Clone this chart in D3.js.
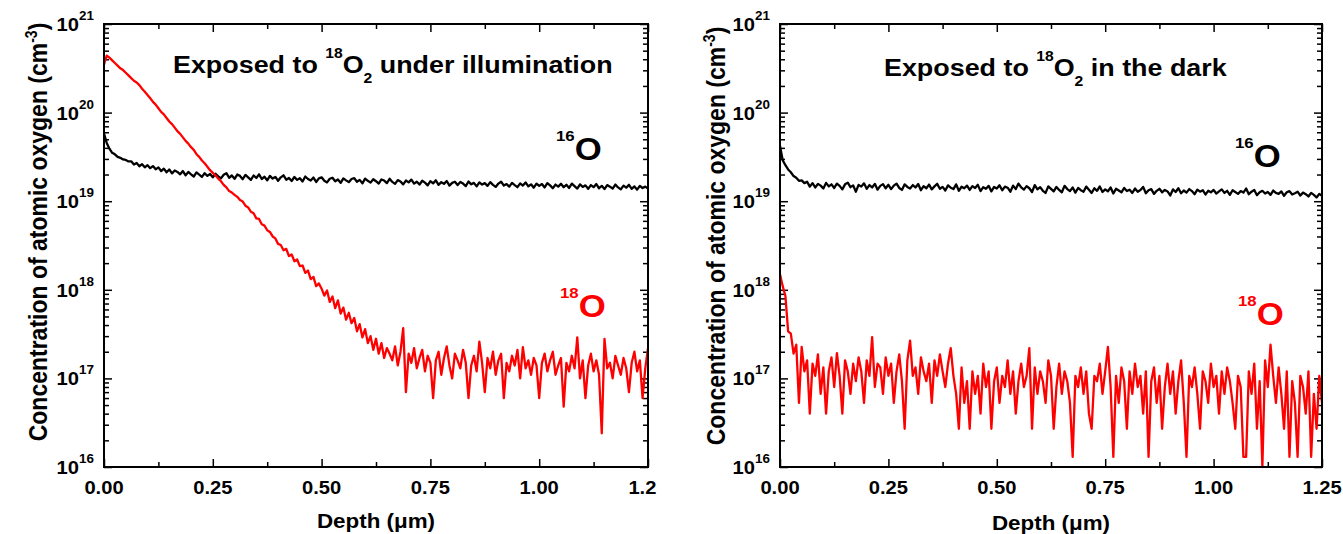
<!DOCTYPE html>
<html>
<head>
<meta charset="utf-8">
<script src="https://cdn.jsdelivr.net/npm/d3@7"></script>
<style>
  body { margin: 0; background: #fff; }
  text { font-family: "Liberation Sans", Arial, sans-serif; font-weight: bold; }
</style>
</head>
<body>
<svg id="chart" width="1343" height="534"></svg>
<script>
// SIMS depth profiles, one point every STEP micrometres, values in units of 1e17 cm^-3
const STEP = 0.00625;
const UNIT = 1e17;

const xMajor = [0, 0.25, 0.5, 0.75, 1.0, 1.25];
const xMinor = [0.125, 0.375, 0.625, 0.875, 1.125];
const xTickLabels = ["0.00", "0.25", "0.50", "0.75", "1.00", "1.25"];
const decades = [16, 17, 18, 19, 20, 21];

// exposed under illumination
const lightO16 = [
  580, 455, 392, 352, 338, 316, 309, 296, 292, 281,
  282, 259, 270, 248, 262, 241, 255, 236, 249, 229,
  241, 219, 233, 212, 228, 206, 222, 214, 201, 219,
  196, 214, 201, 190, 211, 199, 188, 207, 193, 203,
  186, 204, 191, 181, 199, 207, 184, 195, 179, 200,
  193, 177, 198, 186, 174, 195, 183, 201, 178, 189,
  172, 193, 180, 188, 170, 186, 196, 175, 183, 169,
  188, 174, 182, 167, 190, 178, 171, 185, 165, 181,
  186, 170, 163, 179, 184, 168, 176, 161, 181, 172,
  164, 178, 182, 166, 174, 159, 180, 170, 162, 177,
  168, 158, 176, 171, 160, 179, 165, 157, 173, 167,
  155, 171, 163, 175, 158, 166, 154, 170, 162, 151,
  168, 159, 172, 153, 164, 157, 169, 150, 161, 166,
  152, 165, 158, 148, 167, 155, 161, 147, 163, 154,
  160, 149, 164, 153, 145, 158, 166, 150, 156, 146,
  161, 152, 144, 159, 150, 163, 147, 155, 142, 158,
  149, 156, 143, 160, 151, 140, 154, 146, 157, 144,
  153, 141, 158, 148, 139, 155, 145, 151, 138, 152,
  144, 156, 140, 149, 137, 152, 146, 139, 154, 143,
  136, 150, 142, 153, 138, 147, 135, 149, 141, 146,
  139
];
const lightO18 = [
  3500, 4400, 4170, 3890, 3630, 3390, 3160, 3020, 2820, 2630,
  2450, 2290, 2190, 2040, 1860, 1720, 1580, 1450, 1320, 1230,
  1120, 1020, 955, 870, 794, 741, 676, 617, 575, 525,
  479, 447, 407, 380, 339, 316, 288, 268, 245, 224,
  209, 195, 180, 168, 153, 143, 130, 125, 118, 112,
  103, 99, 89, 85, 76, 73, 64, 63, 55, 53,
  47, 45, 40, 38, 33, 32, 28, 29, 24, 25,
  21, 22, 18.5, 18.8, 15.5, 16.5, 13.2, 14.0, 11.0, 11.8,
  10.3, 8.6, 9.8, 7.3, 8.4, 6.2, 7.6, 5.4, 6.3, 4.6,
  5.5, 4.2, 4.8, 3.4, 4.1, 2.9, 3.6, 2.5, 3.0, 2.1,
  2.8, 1.9, 2.5, 1.7, 2.2, 1.9, 1.6, 2.3, 1.4, 2.0,
  3.7, 0.7, 1.9, 1.5, 2.2, 1.3, 1.7, 2.1, 1.2, 1.8,
  1.5, 0.6, 1.6, 2.0, 1.1, 1.7, 2.3, 1.4, 1.0, 1.9,
  1.6, 1.3, 2.1, 1.5, 0.6, 1.4, 1.8, 1.2, 2.6, 1.5,
  0.7, 1.7, 1.3, 2.0, 1.1, 1.6, 1.9, 0.6, 1.5, 1.2,
  1.8, 1.4, 2.1, 1.0, 2.25, 1.3, 1.6, 1.1, 1.7, 1.4,
  0.6, 1.5, 1.9, 1.2, 1.6, 2.0, 1.1, 1.4, 1.7, 0.48,
  1.5, 1.2, 1.8, 1.3, 2.9, 1.0, 1.6, 0.6, 1.4, 1.9,
  1.2, 1.6, 1.1, 0.24, 2.8, 1.3, 1.5, 1.0, 1.8, 1.4,
  1.1, 1.7, 1.3, 0.7, 1.5, 2.0, 1.2, 1.6, 0.6, 1.3,
  2.2
];

// exposed in the dark
const darkO16 = [
  420, 290, 255, 228, 212, 192, 184, 170, 172, 160,
  166, 146, 160, 143, 157, 150, 139, 161, 147, 155,
  141, 158, 149, 136, 155, 162, 144, 151, 128, 153,
  146, 159, 138, 152, 143, 157, 135, 149, 156, 140,
  153, 137, 150, 158, 141, 134, 155, 145, 139, 152,
  143, 156, 133, 148, 140, 154, 136, 147, 157, 138,
  145, 132, 151, 142, 137, 155, 131, 146, 140, 150,
  134, 148, 141, 153, 130, 144, 138, 149, 129, 145,
  139, 151, 133, 146, 142, 128, 150, 137, 158, 143,
  135, 148, 140, 127, 152, 136, 144, 131, 124, 147,
  138, 129, 145, 134, 126, 149, 137, 130, 143, 125,
  141, 133, 128, 146, 135, 124, 140, 131, 147, 127,
  136, 129, 143, 122, 138, 132, 126, 141, 130, 135,
  124, 139, 128, 134, 145, 123, 133, 137, 121, 131,
  138, 126, 134, 129, 116, 136, 127, 140, 123, 132,
  125, 137, 130, 120, 135, 128, 133, 119, 131, 126,
  134, 122, 129, 136, 124, 131, 118, 133, 127, 121,
  130, 125, 139, 120, 128, 134, 117, 126, 131, 122,
  127, 118, 132, 124, 121, 129, 115, 126, 130, 119,
  123, 128, 116, 125, 120, 113, 124, 118, 110, 121,
  115
];
const darkO18 = [
  15, 11, 8.5, 3.4, 3.2, 1.9, 2.4, 0.53, 2.27, 1.2,
  1.6, 0.4, 1.47, 1.07, 1.87, 0.67, 1.33, 0.4, 1.2, 1.73,
  0.8, 1.93, 1.07, 0.4, 1.6, 1.2, 0.67, 1.47, 0.93, 1.73,
  1.2, 0.53, 1.6, 1.07, 2.93, 0.8, 1.47, 1.33, 0.67, 1.73,
  1.07, 1.47, 0.53, 1.2, 1.87, 0.93, 0.27, 1.6, 2.67, 1.07,
  1.33, 0.67, 1.73, 1.2, 0.93, 1.47, 0.53, 1.6, 1.07, 1.87,
  1.2, 0.8, 1.47, 2.2, 1.07, 0.67, 0.27, 1.33, 0.53, 0.93,
  0.27, 1.2, 0.67, 1.07, 0.4, 1.47, 0.8, 1.2, 0.27, 0.93,
  1.33, 0.53, 1.07, 0.8, 1.6, 0.67, 1.2, 0.4, 0.93, 1.47,
  0.8, 1.07, 2.2, 0.27, 1.33, 0.67, 1.2, 0.93, 0.53, 1.6,
  1.07, 0.27, 0.8, 1.47, 0.67, 1.2, 0.93, 0.53, 0.13, 1.07,
  0.8, 1.33, 0.67, 1.2, 0.4, 0.27, 1.07, 0.93, 1.47, 0.67,
  1.2, 2.27, 0.8, 0.13, 1.07, 0.53, 1.33, 0.93, 0.27, 1.2,
  0.67, 1.47, 0.8, 1.07, 0.4, 1.2, 0.13, 0.93, 1.33, 0.53,
  1.07, 0.27, 0.8, 1.47, 0.67, 1.2, 0.4, 0.93, 1.6, 0.53,
  0.13, 1.07, 0.8, 1.33, 0.67, 0.27, 1.2, 0.93, 0.53, 1.47,
  0.8, 1.07, 0.4, 1.2, 0.67, 1.33, 0.93, 0.53, 0.27, 1.07,
  0.8, 0.13, 0.13, 1.2, 0.67, 1.47, 0.27, 0.93, 0.1, 1.6,
  0.8, 2.4, 1.07, 0.53, 1.33, 0.67, 0.27, 1.2, 0.13, 0.93,
  0.53, 0.13, 1.07, 0.8, 0.4, 1.2, 0.13, 0.67, 0.27, 1.07,
  0.53
];

const SX = 1.12; // the figure's lettering is a little wider than plain Arial

const panels = [
  {
    id: "light", left: 104, right: 648, top: 24, bottom: 467, clipRight: 657,
    o16: lightO16, o18: lightO18,
    title: { x: 173, y: 73, rest: " under illumination" },
    label16: { x: 556, y: 160 }, label18: { x: 560, y: 317 },
    yTitle: { x: 47, y: 232 }, xTitle: { x: 376, y: 528 }
  },
  {
    id: "dark", left: 780, right: 1322, top: 24, bottom: 467, clipRight: 1343,
    o16: darkO16, o18: darkO18,
    title: { x: 884, y: 76, rest: " in the dark" },
    label16: { x: 1235, y: 167 }, label18: { x: 1238, y: 325 },
    yTitle: { x: 725, y: 236 }, xTitle: { x: 1051, y: 530 }
  }
];

const svg = d3.select("#chart");
const defs = svg.append("defs");

// text made of runs: each run {t, size, dy}
function rich(g, x, y, runs, size, color, anchor, rotate) {
  const t = g.append("text")
    .attr("transform", `translate(${x},${y}) scale(${SX},1)` + (rotate ? " rotate(-90)" : ""))
    .attr("font-size", size)
    .attr("fill", color)
    .attr("text-anchor", anchor || "start");
  runs.forEach(r => {
    const s = t.append("tspan").text(r.t);
    if (r.size) s.attr("font-size", r.size);
    if (r.dy) s.attr("dy", r.dy);
  });
  return t;
}

panels.forEach(p => {
  defs.append("clipPath").attr("id", "panel-" + p.id)
    .append("rect").attr("x", p.left - 110).attr("y", 0)
    .attr("width", p.clipRight - p.left + 110).attr("height", 534);
  defs.append("clipPath").attr("id", "plot-" + p.id)
    .append("rect").attr("x", p.left).attr("y", p.top - 2)
    .attr("width", p.right - p.left).attr("height", p.bottom - p.top + 4);

  const g = svg.append("g").attr("clip-path", `url(#panel-${p.id})`);

  const x = d3.scaleLinear().domain([0, 1.25]).range([p.left, p.right]);
  const y = d3.scaleLog().domain([1e16, 1e21]).range([p.bottom, p.top]);

  const yMajor = decades.map(d => Math.pow(10, d));
  const yMinor = [];
  decades.slice(0, -1).forEach(d => {
    for (let m = 2; m <= 9; m++) yMinor.push(m * Math.pow(10, d));
  });

  const tickStyle = sel => {
    sel.select(".domain").remove();
    sel.selectAll("line").attr("stroke", "#000").attr("stroke-width", 1.5);
  };

  // inward ticks on all four sides
  g.append("g").attr("transform", `translate(0,${p.bottom})`)
    .call(d3.axisBottom(x).tickValues(xMajor).tickSize(-8).tickFormat("")).call(tickStyle);
  g.append("g").attr("transform", `translate(0,${p.bottom})`)
    .call(d3.axisBottom(x).tickValues(xMinor).tickSize(-5).tickFormat("")).call(tickStyle);
  g.append("g").attr("transform", `translate(0,${p.top})`)
    .call(d3.axisTop(x).tickValues(xMajor).tickSize(-8).tickFormat("")).call(tickStyle);
  g.append("g").attr("transform", `translate(0,${p.top})`)
    .call(d3.axisTop(x).tickValues(xMinor).tickSize(-5).tickFormat("")).call(tickStyle);
  g.append("g").attr("transform", `translate(${p.left},0)`)
    .call(d3.axisLeft(y).tickValues(yMajor).tickSize(-8).tickFormat("")).call(tickStyle);
  g.append("g").attr("transform", `translate(${p.left},0)`)
    .call(d3.axisLeft(y).tickValues(yMinor).tickSize(-5).tickFormat("")).call(tickStyle);
  g.append("g").attr("transform", `translate(${p.right},0)`)
    .call(d3.axisRight(y).tickValues(yMajor).tickSize(-8).tickFormat("")).call(tickStyle);
  g.append("g").attr("transform", `translate(${p.right},0)`)
    .call(d3.axisRight(y).tickValues(yMinor).tickSize(-5).tickFormat("")).call(tickStyle);

  // y tick labels 10^n
  decades.forEach(d => {
    rich(g, p.left - 10, y(Math.pow(10, d)) + 7,
      [{ t: "10" }, { t: String(d), size: 12, dy: -11 }], 18, "#000", "end");
  });
  // x tick labels
  xMajor.forEach((v, i) => {
    rich(g, x(v), p.bottom + 27, [{ t: xTickLabels[i] }], 18, "#000", "middle");
  });

  // data
  const line = d3.line()
    .x((d, i) => x(i * STEP))
    .y(d => y(d * UNIT));
  const plot = g.append("g").attr("clip-path", `url(#plot-${p.id})`);
  plot.append("path").datum(p.o16).attr("d", line)
    .attr("fill", "none").attr("stroke", "#000").attr("stroke-width", 2.3).attr("stroke-linejoin", "round");
  plot.append("path").datum(p.o18).attr("d", line)
    .attr("fill", "none").attr("stroke", "#ff0000").attr("stroke-width", 2.3).attr("stroke-linejoin", "round");

  // frame
  g.append("rect").attr("x", p.left).attr("y", p.top)
    .attr("width", p.right - p.left).attr("height", p.bottom - p.top)
    .attr("fill", "none").attr("stroke", "#000").attr("stroke-width", 2);

  // titles and labels
  rich(g, p.title.x, p.title.y, [
    { t: "Exposed to " }, { t: "18", size: 14, dy: -15 },
    { t: "O", dy: 15 }, { t: "2", size: 14, dy: 10 }, { t: p.title.rest, dy: -10 }
  ], 24, "#000");
  rich(g, p.label16.x, p.label16.y, [{ t: "16", size: 15, dy: -19 }, { t: "O", dy: 19 }], 31, "#000");
  rich(g, p.label18.x, p.label18.y, [{ t: "18", size: 15, dy: -19 }, { t: "O", dy: 19 }], 31, "#ff0000");

  rich(g, p.yTitle.x, p.yTitle.y, [
    { t: "Concentration of atomic oxygen (cm" }, { t: "-3", size: 14, dy: -9 }, { t: ")", dy: 9 }
  ], 23, "#000", "middle", true);
  rich(g, p.xTitle.x, p.xTitle.y, [{ t: "Depth (" }, { t: "\u03bc", size: 20 }, { t: "m)" }], 20, "#000", "middle");
});
</script>
</body>
</html>
